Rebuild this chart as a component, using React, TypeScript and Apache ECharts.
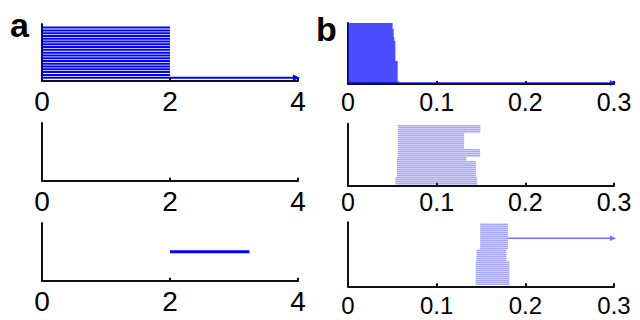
import React, { useEffect, useRef } from "react";
import * as echarts from "echarts";

// ---- axis definitions ----
const leftXTicks = [0, 2, 4];
const rightXTicks = [0, 0.1, 0.2, 0.3];

// ---- panel a (top): 18 bars from 0 to 2, plus an arrow from 0 to 4 ----
const a1Rows = [1, 2, 3, 4, 5, 6, 7, 8, 9, 10, 11, 12, 13, 14, 15, 16, 17, 18];
const a1Start = [0, 0, 0, 0, 0, 0, 0, 0, 0, 0, 0, 0, 0, 0, 0, 0, 0, 0];
const a1End = [2, 2, 2, 2, 2, 2, 2, 2, 2, 2, 2, 2, 2, 2, 2, 2, 2, 2];
const a1Arrow = [0, 4, 0]; // from, to, row

// ---- panel a (middle): empty ----
const a2Rows: number[] = [];

// ---- panel a (bottom): one segment ----
const a3Rows = [0.5];
const a3Start = [2];
const a3End = [3.24];

// ---- panel b (top) ----
const b1Rows = [0, 1, 2, 3, 4, 5, 6, 7, 8, 9, 10, 11, 12, 13, 14, 15, 16, 17, 18, 19, 20, 21, 22, 23, 24, 25, 26, 27, 28, 29];
const b1Start = [0, 0, 0, 0, 0, 0, 0, 0, 0, 0, 0, 0, 0, 0, 0, 0, 0, 0, 0, 0, 0, 0, 0, 0, 0, 0, 0, 0, 0, 0];
const b1End = [0.057, 0.056, 0.056, 0.056, 0.056, 0.056, 0.056, 0.056, 0.056, 0.056, 0.056, 0.0534, 0.0534, 0.0534, 0.0534, 0.0534, 0.0534, 0.0534, 0.0534, 0.0534, 0.0534, 0.0522, 0.0522, 0.0515, 0.0515, 0.0515, 0.0515, 0.0503, 0.0503, 0.0503];
const b1Arrow = [0, 0.3, -0.5];

// ---- panel b (middle) ----
const b2Rows = [0, 1, 2, 3, 4, 5, 6, 7, 8, 9, 10, 11, 12, 13, 14, 15, 16, 17, 18, 19, 20, 21, 22, 23, 24, 25, 26, 27, 28, 29];
const b2Start = [0.0534, 0.0534, 0.0534, 0.0534, 0.0553, 0.0553, 0.0553, 0.0553, 0.0553, 0.0553, 0.0553, 0.0553, 0.0553, 0.0553, 0.0563, 0.0563, 0.0563, 0.0563, 0.0563, 0.0563, 0.0563, 0.0563, 0.0563, 0.0563, 0.0563, 0.0563, 0.0563, 0.0563, 0.0563, 0.0563];
const b2End = [0.1456, 0.1456, 0.1456, 0.1456, 0.1445, 0.1445, 0.1445, 0.1445, 0.1445, 0.1445, 0.1445, 0.1445, 0.1336, 0.1336, 0.149, 0.149, 0.149, 0.149, 0.131, 0.131, 0.131, 0.131, 0.131, 0.131, 0.131, 0.131, 0.1493, 0.1493, 0.1493, 0.1493];

// ---- panel b (bottom) ----
const b3Rows = [0, 1, 2, 3, 4, 5, 6, 7, 8, 9, 10, 11, 12, 13, 14, 15, 16, 17, 18, 19, 20, 21, 22, 23, 24, 25, 26, 27, 28, 29, 30];
const b3Start = [0.144, 0.144, 0.144, 0.144, 0.144, 0.144, 0.144, 0.144, 0.144, 0.144, 0.144, 0.144, 0.1448, 0.1448, 0.1448, 0.1448, 0.1448, 0.1448, 0.149, 0.149, 0.149, 0.149, 0.149, 0.149, 0.149, 0.149, 0.149, 0.149, 0.149, 0.149, 0.149];
const b3End = [0.182, 0.182, 0.182, 0.182, 0.182, 0.182, 0.182, 0.182, 0.182, 0.182, 0.182, 0.182, 0.1787, 0.1787, 0.1787, 0.1787, 0.1787, 0.1787, 0.1806, 0.1806, 0.1806, 0.1806, 0.1806, 0.1806, 0.1806, 0.1806, 0.1806, 0.1806, 0.1806, 0.1806, 0.1806];
const b3Arrow = [0.1806, 0.3, 23];

const FONT = "'Liberation Sans', Arial, Helvetica, sans-serif";
const AXIS_COLOR = "#111";

function segs(rows: number[], start: number[], end: number[]) {
  return rows.map((r, i) => [start[i], end[i], r]);
}

function segmentSeries(idx: number, data: number[][], color: string, width: number) {
  return {
    type: "custom",
    xAxisIndex: idx,
    yAxisIndex: idx,
    clip: false,
    encode: { x: [0, 1], y: 2 },
    data,
    renderItem: (_p: any, api: any) => {
      const y = api.value(2);
      const p1 = api.coord([api.value(0), y]);
      const p2 = api.coord([api.value(1), y]);
      return {
        type: "line",
        shape: { x1: p1[0], y1: p1[1], x2: p2[0], y2: p2[1] },
        style: { stroke: color, lineWidth: width },
      };
    },
  };
}

function arrowSeries(idx: number, arrow: number[], color: string, width: number, head: number) {
  return {
    type: "custom",
    xAxisIndex: idx,
    yAxisIndex: idx,
    clip: false,
    encode: { x: [0, 1], y: 2 },
    data: [arrow],
    renderItem: (_p: any, api: any) => {
      const y = api.value(2);
      const p1 = api.coord([api.value(0), y]);
      const p2 = api.coord([api.value(1), y]);
      return {
        type: "group",
        children: [
          {
            type: "line",
            shape: { x1: p1[0], y1: p1[1], x2: p2[0] - head * 0.6, y2: p2[1] },
            style: { stroke: color, lineWidth: width },
          },
          {
            type: "polygon",
            shape: {
              points: [
                [p2[0] + 2, p2[1]],
                [p2[0] + 2 - head, p2[1] - head * 0.45],
                [p2[0] + 2 - head, p2[1] + head * 0.45],
              ],
            },
            style: { fill: color },
          },
        ],
      };
    },
  };
}

export default function App() {
  const ref = useRef<HTMLDivElement>(null);

  useEffect(() => {
    if (!ref.current) return;
    const chart = echarts.init(ref.current, null, { renderer: "svg" });

    const grids = [
      { left: 42, top: 24, width: 256, height: 57 },
      { left: 42, top: 123, width: 256, height: 57.7 },
      { left: 42, top: 223, width: 256, height: 57.7 },
      { left: 348, top: 23, width: 266, height: 61 },
      { left: 348, top: 123.7, width: 266, height: 62 },
      { left: 348, top: 222.3, width: 266, height: 64 },
    ];

    const yRanges = [
      [-1.2, 19.3],
      [0, 1],
      [0, 1],
      [-1, 29.5],
      [-1, 30],
      [-1, 31],
    ];

    const labelSize = [28, 28, 28, 25, 25, 24];
    const labelMargin = [6, 7, 7, 5, 4, 7];

    const fmt = (v: number) => String(Number(v.toFixed(2)));

    const xAxis = grids.map((_, i) => {
      const left = i < 3;
      const ticks = left ? leftXTicks : rightXTicks;
      return {
        type: "value",
        gridIndex: i,
        min: ticks[0],
        max: ticks[ticks.length - 1],
        interval: ticks[1] - ticks[0],
        axisLine: { show: true, onZero: false, lineStyle: { color: AXIS_COLOR, width: 2 } },
        axisTick: { show: true, inside: true, length: 3, lineStyle: { color: AXIS_COLOR, width: 2 } },
        splitLine: { show: false },
        axisLabel: {
          show: true,
          color: "#000",
          fontFamily: FONT,
          fontSize: labelSize[i],
          margin: labelMargin[i],
          formatter: fmt,
        },
      };
    });

    const yAxis = grids.map((_, i) => ({
      type: "value",
      gridIndex: i,
      min: yRanges[i][0],
      max: yRanges[i][1],
      axisLine: { show: true, onZero: false, lineStyle: { color: AXIS_COLOR, width: 2 } },
      axisTick: { show: false },
      axisLabel: { show: false },
      splitLine: { show: false },
    }));

    const blueSolid = "#0000ff";
    const blueTop = "rgba(25,25,255,0.78)";
    const blueSoft = "rgba(40,40,255,0.42)";

    const series: any[] = [
      segmentSeries(0, segs(a1Rows, a1Start, a1End), blueSolid, 2),
      arrowSeries(0, a1Arrow, blueSolid, 2, 7),
      segmentSeries(1, a2Rows.map((r) => [0, 0, r]), blueSolid, 2),
      segmentSeries(2, segs(a3Rows, a3Start, a3End), blueSolid, 3),
      segmentSeries(3, segs(b1Rows, b1Start, b1End), blueTop, 1.8),
      arrowSeries(3, b1Arrow, "rgba(0,0,230,0.85)", 1.5, 6),
      segmentSeries(4, segs(b2Rows, b2Start, b2End), blueSoft, 1.5),
      segmentSeries(5, segs(b3Rows, b3Start, b3End), blueSoft, 1.5),
      arrowSeries(5, b3Arrow, "rgba(90,90,255,0.85)", 1.5, 6),
    ];

    chart.setOption({
      animation: false,
      backgroundColor: "#fff",
      grid: grids,
      xAxis,
      yAxis,
      series,
      graphic: [
        {
          type: "text",
          left: 10,
          top: 8,
          style: { text: "a", font: `bold 34px ${FONT}`, fill: "#000" },
        },
        {
          type: "text",
          left: 316,
          top: 12,
          style: { text: "b", font: `bold 34px ${FONT}`, fill: "#000" },
        },
      ],
    });

    return () => chart.dispose();
  }, []);

  return (
    <div
      ref={ref}
      style={{ position: "fixed", left: 0, top: 0, width: 640, height: 320, background: "#fff" }}
    />
  );
}
